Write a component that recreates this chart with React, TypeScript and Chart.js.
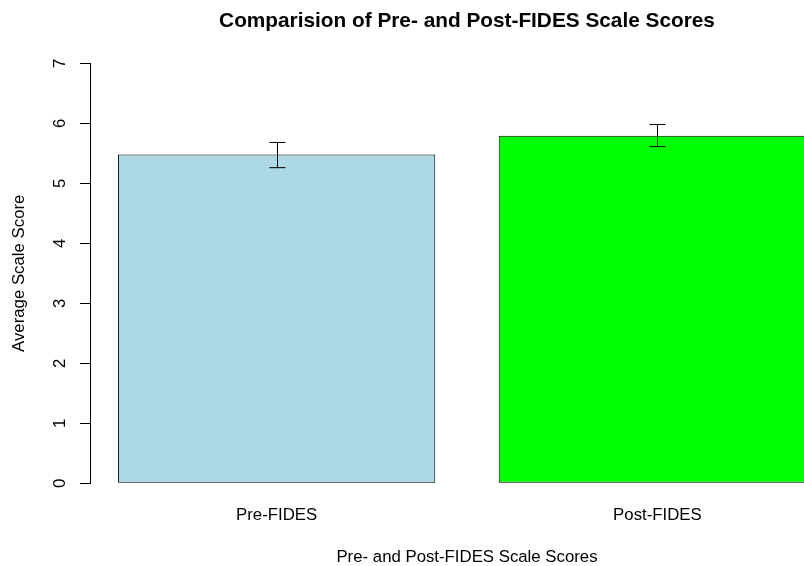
import React, { useEffect, useRef } from "react";
import { Chart, registerables } from "chart.js";

Chart.register(...registerables);

// ---- Data ----
const categories: string[] = ["Pre-FIDES", "Post-FIDES"];
const meanScores: number[] = [5.48, 5.79];
const lowerBounds: number[] = [5.26, 5.61];
const upperBounds: number[] = [5.68, 5.98];
const barColors: string[] = ["#ADD8E6", "#00FF00"];
const yTicks: number[] = [0, 1, 2, 3, 4, 5, 6, 7];

const titleText = "Comparision of Pre- and Post-FIDES Scale Scores";
const xTitle = "Pre- and Post-FIDES Scale Scores";
const yTitle = "Average Scale Score";

// R barplot layout constants (bar width 1, space 0.2)
const BAR_W = 1;
const BAR_SPACE = 0.2;

const FONT = "'Liberation Sans', Arial, Helvetica, sans-serif";

export default function App() {
  const canvasRef = useRef<HTMLCanvasElement | null>(null);

  useEffect(() => {
    if (!canvasRef.current) return;
    const centers = categories.map((_, i) => BAR_SPACE + i * (BAR_W + BAR_SPACE) + BAR_W / 2);
    const leftEdge = BAR_SPACE;
    const rightEdge = categories.length * (BAR_W + BAR_SPACE);
    const ext = (rightEdge - leftEdge) * 0.04;

    const errorBars = {
      id: "errorBars",
      afterDatasetsDraw(chart: any) {
        const { ctx, scales } = chart;
        const xs = scales.x;
        const ys = scales.y;
        ctx.save();
        ctx.strokeStyle = "#000";
        ctx.lineWidth = 1;
        centers.forEach((c, i) => {
          const x = Math.round(xs.getPixelForValue(c)) + 0.5;
          const yt = ys.getPixelForValue(upperBounds[i]);
          const yb = ys.getPixelForValue(lowerBounds[i]);
          ctx.beginPath();
          ctx.moveTo(x, yt);
          ctx.lineTo(x, yb);
          ctx.moveTo(x - 8, yt);
          ctx.lineTo(x + 8, yt);
          ctx.moveTo(x - 8, yb);
          ctx.lineTo(x + 8, yb);
          ctx.stroke();
        });
        ctx.restore();
      },
    };

    const chart = new Chart(canvasRef.current, {
      type: "bar",
      data: {
        datasets: [
          {
            data: categories.map((_, i) => ({ x: centers[i], y: meanScores[i] })),
            backgroundColor: barColors,
            borderColor: "#000",
            borderWidth: 1,
            borderSkipped: false,
            categoryPercentage: 1,
            barPercentage: BAR_W / (BAR_W + BAR_SPACE),
          },
        ],
      },
      options: {
        animation: false,
        responsive: false,
        layout: { padding: 0 },
        plugins: {
          legend: { display: false },
          tooltip: { enabled: false },
          title: {
            display: true,
            text: titleText,
            fullSize: false,
            color: "#000",
            font: { family: FONT, size: 20.8, weight: "bold", lineHeight: 1.2 },
            padding: { top: 8.5, bottom: 29.8 },
          },
        },
        scales: {
          x: {
            type: "linear",
            offset: false,
            min: leftEdge - ext,
            max: rightEdge + ext,
            afterBuildTicks(scale: any) {
              scale.ticks = centers.map((v) => ({ value: v }));
            },
            afterFit(scale: any) {
              scale.height = 82.7;
            },
            grid: { display: false, drawTicks: false, offset: false },
            border: { display: false },
            ticks: {
              color: "#000",
              padding: 21.6,
              autoSkip: false,
              maxRotation: 0,
              font: { family: FONT, size: 16.8, lineHeight: 1.2 },
              callback: (value: any) => {
                const idx = centers.findIndex((c) => Math.abs(c - value) < 1e-6);
                return idx >= 0 ? categories[idx] : "";
              },
            },
            title: {
              display: true,
              text: xTitle,
              color: "#000",
              font: { family: FONT, size: 16.8, lineHeight: 1 },
              padding: { top: 0, bottom: 0 },
            },
          },
          y: {
            min: yTicks[0],
            max: yTicks[yTicks.length - 1],
            afterBuildTicks(scale: any) {
              scale.ticks = yTicks.map((v) => ({ value: v }));
            },
            afterFit(scale: any) {
              scale.width = 90;
            },
            grid: {
              display: true,
              drawOnChartArea: false,
              drawTicks: true,
              tickLength: 10,
              color: "#000",
              lineWidth: 1,
            },
            border: { display: true, color: "#000", width: 1 },
            ticks: {
              color: "#000",
              padding: 15.3,
              crossAlign: "center",
              minRotation: 90,
              maxRotation: 90,
              font: { family: FONT, size: 16.8, lineHeight: 1.2 },
            },
            title: {
              display: true,
              text: yTitle,
              color: "#000",
              font: { family: FONT, size: 16.8, lineHeight: 1 },
              padding: { top: 11.1, bottom: 0 },
            },
          },
        },
      },
      plugins: [errorBars],
    } as any);

    return () => chart.destroy();
  }, []);

  return (
    <div
      style={{
        position: "fixed",
        left: 0,
        top: 0,
        width: 804,
        height: 566,
        overflow: "hidden",
        background: "#fff",
      }}
    >
      <canvas ref={canvasRef} width={844} height={566} style={{ display: "block" }} />
    </div>
  );
}
